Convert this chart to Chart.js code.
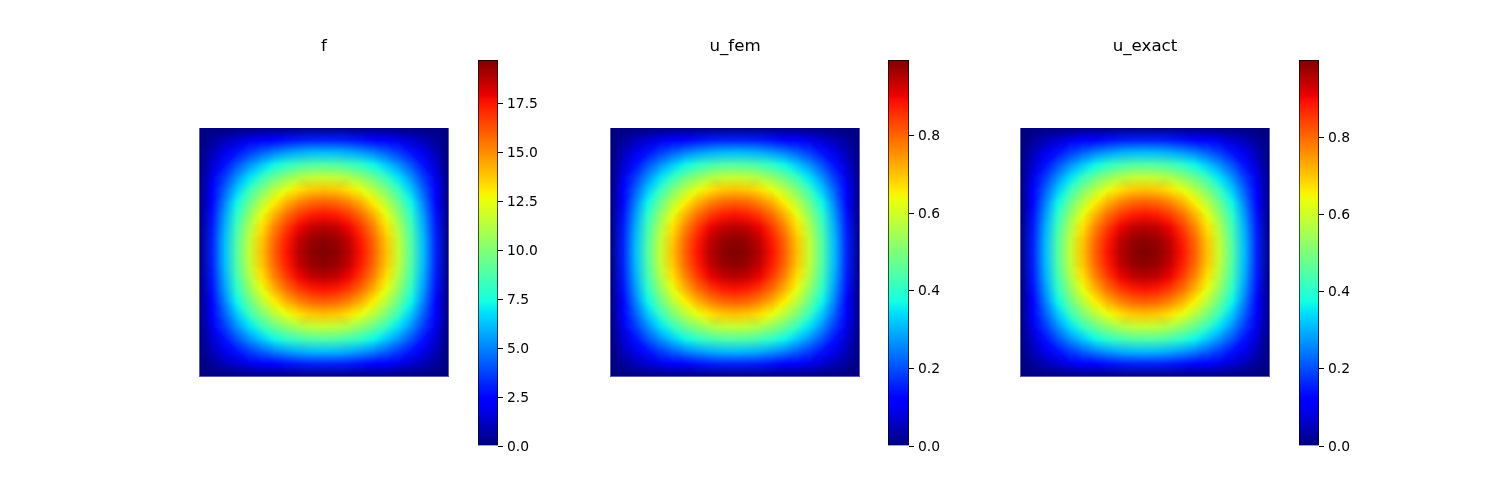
<!DOCTYPE html>
<html>
<head>
<meta charset="utf-8">
<title>Poisson solution</title>
<script src="https://cdn.jsdelivr.net/npm/chart.js@4"></script>
<style>
    html, body { margin: 0; padding: 0; background: #fff; }
    #page { position: relative; width: 1500px; height: 500px; overflow: hidden; }
    canvas { position: absolute; top: 0; }
</style>
</head>
<body>
<div id="page"></div>
<script>
    // nodal values on the 20 x 20 mesh, one row per y level
    const fValues = [
        [0,0,0,0,0,0,0,0,0,0,0,0,0,0,0,0,0,0,0,0,0],
        [0,.48,.95,1.40,1.81,2.18,2.50,2.75,2.94,3.05,3.09,3.05,2.94,2.75,2.50,2.18,1.81,1.40,.95,.48,0],
        [0,.95,1.88,2.77,3.59,4.31,4.94,5.44,5.80,6.03,6.10,6.03,5.80,5.44,4.94,4.31,3.59,2.77,1.88,.95,0],
        [0,1.40,2.77,4.07,5.27,6.34,7.25,7.99,8.52,8.85,8.96,8.85,8.52,7.99,7.25,6.34,5.27,4.07,2.77,1.40,0],
        [0,1.81,3.59,5.27,6.82,8.20,9.39,10.34,11.04,11.46,11.60,11.46,11.04,10.34,9.39,8.20,6.82,5.27,3.59,1.81,0],
        [0,2.18,4.31,6.34,8.20,9.87,11.29,12.44,13.28,13.79,13.96,13.79,13.28,12.44,11.29,9.87,8.20,6.34,4.31,2.18,0],
        [0,2.50,4.94,7.25,9.39,11.29,12.92,14.23,15.19,15.77,15.97,15.77,15.19,14.23,12.92,11.29,9.39,7.25,4.94,2.50,0],
        [0,2.75,5.44,7.99,10.34,12.44,14.23,15.67,16.73,17.37,17.59,17.37,16.73,15.67,14.23,12.44,10.34,7.99,5.44,2.75,0],
        [0,2.94,5.80,8.52,11.04,13.28,15.19,16.73,17.85,18.54,18.77,18.54,17.85,16.73,15.19,13.28,11.04,8.52,5.80,2.94,0],
        [0,3.05,6.03,8.85,11.46,13.79,15.77,17.37,18.54,19.26,19.50,19.26,18.54,17.37,15.77,13.79,11.46,8.85,6.03,3.05,0],
        [0,3.09,6.10,8.96,11.60,13.96,15.97,17.59,18.77,19.50,19.74,19.50,18.77,17.59,15.97,13.96,11.60,8.96,6.10,3.09,0],
        [0,3.05,6.03,8.85,11.46,13.79,15.77,17.37,18.54,19.26,19.50,19.26,18.54,17.37,15.77,13.79,11.46,8.85,6.03,3.05,0],
        [0,2.94,5.80,8.52,11.04,13.28,15.19,16.73,17.85,18.54,18.77,18.54,17.85,16.73,15.19,13.28,11.04,8.52,5.80,2.94,0],
        [0,2.75,5.44,7.99,10.34,12.44,14.23,15.67,16.73,17.37,17.59,17.37,16.73,15.67,14.23,12.44,10.34,7.99,5.44,2.75,0],
        [0,2.50,4.94,7.25,9.39,11.29,12.92,14.23,15.19,15.77,15.97,15.77,15.19,14.23,12.92,11.29,9.39,7.25,4.94,2.50,0],
        [0,2.18,4.31,6.34,8.20,9.87,11.29,12.44,13.28,13.79,13.96,13.79,13.28,12.44,11.29,9.87,8.20,6.34,4.31,2.18,0],
        [0,1.81,3.59,5.27,6.82,8.20,9.39,10.34,11.04,11.46,11.60,11.46,11.04,10.34,9.39,8.20,6.82,5.27,3.59,1.81,0],
        [0,1.40,2.77,4.07,5.27,6.34,7.25,7.99,8.52,8.85,8.96,8.85,8.52,7.99,7.25,6.34,5.27,4.07,2.77,1.40,0],
        [0,.95,1.88,2.77,3.59,4.31,4.94,5.44,5.80,6.03,6.10,6.03,5.80,5.44,4.94,4.31,3.59,2.77,1.88,.95,0],
        [0,.48,.95,1.40,1.81,2.18,2.50,2.75,2.94,3.05,3.09,3.05,2.94,2.75,2.50,2.18,1.81,1.40,.95,.48,0],
        [0,0,0,0,0,0,0,0,0,0,0,0,0,0,0,0,0,0,0,0,0]
    ];

    const uFemValues = [
        [0,0,0,0,0,0,0,0,0,0,0,0,0,0,0,0,0,0,0,0,0],
        [0,.024,.048,.071,.091,.110,.126,.138,.148,.153,.155,.153,.148,.138,.126,.110,.091,.071,.048,.024,0],
        [0,.048,.094,.139,.181,.217,.249,.273,.292,.303,.307,.303,.292,.273,.249,.217,.181,.139,.094,.048,0],
        [0,.071,.139,.205,.265,.319,.365,.403,.429,.445,.451,.445,.429,.403,.365,.319,.265,.205,.139,.071,0],
        [0,.091,.181,.265,.343,.413,.473,.521,.556,.578,.584,.578,.556,.521,.473,.413,.343,.265,.181,.091,0],
        [0,.110,.217,.319,.413,.497,.569,.626,.668,.694,.703,.694,.668,.626,.569,.497,.413,.319,.217,.110,0],
        [0,.126,.249,.365,.473,.569,.651,.717,.764,.794,.804,.794,.764,.717,.651,.569,.473,.365,.249,.126,0],
        [0,.138,.273,.403,.521,.626,.717,.789,.842,.875,.886,.875,.842,.789,.717,.626,.521,.403,.273,.138,0],
        [0,.148,.292,.429,.556,.668,.764,.842,.900,.933,.945,.933,.900,.842,.764,.668,.556,.429,.292,.148,0],
        [0,.153,.303,.445,.578,.694,.794,.875,.933,.970,.982,.970,.933,.875,.794,.694,.578,.445,.303,.153,0],
        [0,.155,.307,.451,.584,.703,.804,.886,.945,.982,.994,.982,.945,.886,.804,.703,.584,.451,.307,.155,0],
        [0,.153,.303,.445,.578,.694,.794,.875,.933,.970,.982,.970,.933,.875,.794,.694,.578,.445,.303,.153,0],
        [0,.148,.292,.429,.556,.668,.764,.842,.900,.933,.945,.933,.900,.842,.764,.668,.556,.429,.292,.148,0],
        [0,.138,.273,.403,.521,.626,.717,.789,.842,.875,.886,.875,.842,.789,.717,.626,.521,.403,.273,.138,0],
        [0,.126,.249,.365,.473,.569,.651,.717,.764,.794,.804,.794,.764,.717,.651,.569,.473,.365,.249,.126,0],
        [0,.110,.217,.319,.413,.497,.569,.626,.668,.694,.703,.694,.668,.626,.569,.497,.413,.319,.217,.110,0],
        [0,.091,.181,.265,.343,.413,.473,.521,.556,.578,.584,.578,.556,.521,.473,.413,.343,.265,.181,.091,0],
        [0,.071,.139,.205,.265,.319,.365,.403,.429,.445,.451,.445,.429,.403,.365,.319,.265,.205,.139,.071,0],
        [0,.048,.094,.139,.181,.217,.249,.273,.292,.303,.307,.303,.292,.273,.249,.217,.181,.139,.094,.048,0],
        [0,.024,.048,.071,.091,.110,.126,.138,.148,.153,.155,.153,.148,.138,.126,.110,.091,.071,.048,.024,0],
        [0,0,0,0,0,0,0,0,0,0,0,0,0,0,0,0,0,0,0,0,0]
    ];

    const uExactValues = [
        [0,0,0,0,0,0,0,0,0,0,0,0,0,0,0,0,0,0,0,0,0],
        [0,.024,.048,.071,.092,.111,.127,.139,.149,.154,.156,.154,.149,.139,.127,.111,.092,.071,.048,.024,0],
        [0,.048,.095,.140,.182,.218,.250,.275,.294,.305,.309,.305,.294,.275,.250,.218,.182,.140,.095,.048,0],
        [0,.071,.140,.206,.267,.321,.367,.405,.432,.448,.454,.448,.432,.405,.367,.321,.267,.206,.140,.071,0],
        [0,.092,.182,.267,.345,.416,.476,.524,.559,.581,.588,.581,.559,.524,.476,.416,.345,.267,.182,.092,0],
        [0,.111,.218,.321,.416,.500,.572,.630,.672,.698,.707,.698,.672,.630,.572,.500,.416,.321,.218,.111,0],
        [0,.127,.250,.367,.476,.572,.655,.721,.769,.799,.809,.799,.769,.721,.655,.572,.476,.367,.250,.127,0],
        [0,.139,.275,.405,.524,.630,.721,.794,.847,.880,.891,.880,.847,.794,.721,.630,.524,.405,.275,.139,0],
        [0,.149,.294,.432,.559,.672,.769,.847,.905,.939,.951,.939,.905,.847,.769,.672,.559,.432,.294,.149,0],
        [0,.154,.305,.448,.581,.698,.799,.880,.939,.976,.988,.976,.939,.880,.799,.698,.581,.448,.305,.154,0],
        [0,.156,.309,.454,.588,.707,.809,.891,.951,.988,1,.988,.951,.891,.809,.707,.588,.454,.309,.156,0],
        [0,.154,.305,.448,.581,.698,.799,.880,.939,.976,.988,.976,.939,.880,.799,.698,.581,.448,.305,.154,0],
        [0,.149,.294,.432,.559,.672,.769,.847,.905,.939,.951,.939,.905,.847,.769,.672,.559,.432,.294,.149,0],
        [0,.139,.275,.405,.524,.630,.721,.794,.847,.880,.891,.880,.847,.794,.721,.630,.524,.405,.275,.139,0],
        [0,.127,.250,.367,.476,.572,.655,.721,.769,.799,.809,.799,.769,.721,.655,.572,.476,.367,.250,.127,0],
        [0,.111,.218,.321,.416,.500,.572,.630,.672,.698,.707,.698,.672,.630,.572,.500,.416,.321,.218,.111,0],
        [0,.092,.182,.267,.345,.416,.476,.524,.559,.581,.588,.581,.559,.524,.476,.416,.345,.267,.182,.092,0],
        [0,.071,.140,.206,.267,.321,.367,.405,.432,.448,.454,.448,.432,.405,.367,.321,.267,.206,.140,.071,0],
        [0,.048,.095,.140,.182,.218,.250,.275,.294,.305,.309,.305,.294,.275,.250,.218,.182,.140,.095,.048,0],
        [0,.024,.048,.071,.092,.111,.127,.139,.149,.154,.156,.154,.149,.139,.127,.111,.092,.071,.048,.024,0],
        [0,0,0,0,0,0,0,0,0,0,0,0,0,0,0,0,0,0,0,0,0]
    ];

    const panelTitles = ['f', 'u_fem', 'u_exact'];
    const fTicks = [0, 2.5, 5, 7.5, 10, 12.5, 15, 17.5];
    const uTicks = [0, 0.2, 0.4, 0.6, 0.8];

    // first pixel column of each mesh plot and of each colorbar on the page
    const meshLefts = [199, 610, 1020];
    const barLefts = [478, 888, 1299];
    const barWidths = [20, 21, 20];

    const JET = {
        r: [[0, 0], [.35, 0], [.66, 1], [.89, 1], [1, .5]],
        g: [[0, 0], [.125, 0], [.375, 1], [.64, 1], [.91, 0], [1, 0]],
        b: [[0, .5], [.11, 1], [.34, 1], [.65, 0], [1, 0]]
    };

    function channel(stops, t) {
        for (let i = 1; i < stops.length; i++) {
            if (t <= stops[i][0]) {
                const k = (t - stops[i - 1][0]) / (stops[i][0] - stops[i - 1][0]);
                return stops[i - 1][1] + k * (stops[i][1] - stops[i - 1][1]);
            }
        }
        return stops[stops.length - 1][1];
    }

    function jet(t) {
        return [channel(JET.r, t) * 255, channel(JET.g, t) * 255, channel(JET.b, t) * 255];
    }

    // fill one triangle of the mesh, blending the vertex colours
    function fillTriangle(img, ox, oy, a, b, c) {
        const det = (b.y - c.y) * (a.x - c.x) + (c.x - b.x) * (a.y - c.y);
        const x0 = Math.floor(Math.min(a.x, b.x, c.x) - ox - 0.5);
        const x1 = Math.ceil(Math.max(a.x, b.x, c.x) - ox);
        const y0 = Math.floor(Math.min(a.y, b.y, c.y) - oy - 0.5);
        const y1 = Math.ceil(Math.max(a.y, b.y, c.y) - oy);
        for (let py = Math.max(y0, 0); py < Math.min(y1, img.height); py++) {
            for (let px = Math.max(x0, 0); px < Math.min(x1, img.width); px++) {
                const x = px + 0.5 + ox, y = py + 0.5 + oy;
                const l1 = ((b.y - c.y) * (x - c.x) + (c.x - b.x) * (y - c.y)) / det;
                const l2 = ((c.y - a.y) * (x - c.x) + (a.x - c.x) * (y - c.y)) / det;
                const l3 = 1 - l1 - l2;
                if (l1 < -1e-6 || l2 < -1e-6 || l3 < -1e-6) continue;
                const n = (py * img.width + px) * 4;
                for (let k = 0; k < 3; k++) {
                    img.data[n + k] = l1 * a.rgb[k] + l2 * b.rgb[k] + l3 * c.rgb[k];
                }
                // pixels straddling the outer boundary only get partial coverage
                const edge = px === 0 || py === 0 || px === img.width - 1 || py === img.height - 1;
                img.data[n + 3] = edge ? 165 : 255;
            }
        }
    }

    // diagonals run along the level lines, and zigzag near the top and bottom middle
    function risingDiagonal(i, j, n) {
        const mid = n / 2;
        if (Math.abs(i + 0.5 - mid) < 3 && Math.abs(j + 0.5 - mid) > 4) {
            return (j < mid) === (i % 2 === 0);
        }
        return (i < mid) === (j >= mid);
    }

    const meshPlugin = {
        id: 'meshPlugin',
        beforeDatasetsDraw(chart) {
            const points = chart.data.datasets[0].data;
            const n = chart.data.datasets[0].meshSize;
            const top = Math.max(...points.map(p => p.v));
            const area = chart.chartArea;
            const ox = Math.floor(area.left), oy = Math.floor(area.top);
            const w = Math.ceil(area.right) - ox, h = Math.ceil(area.bottom) - oy;
            const img = chart.ctx.createImageData(w, h);
            const node = (i, j) => {
                const p = points[j * (n + 1) + i];
                return {
                    x: chart.scales.x.getPixelForValue(p.x),
                    y: chart.scales.y.getPixelForValue(p.y),
                    rgb: jet(p.v / top)
                };
            };
            for (let j = 0; j < n; j++) {
                for (let i = 0; i < n; i++) {
                    if (risingDiagonal(i, j, n)) {
                        fillTriangle(img, ox, oy, node(i, j), node(i + 1, j), node(i + 1, j + 1));
                        fillTriangle(img, ox, oy, node(i, j), node(i + 1, j + 1), node(i, j + 1));
                    } else {
                        fillTriangle(img, ox, oy, node(i, j), node(i + 1, j), node(i, j + 1));
                        fillTriangle(img, ox, oy, node(i + 1, j), node(i + 1, j + 1), node(i, j + 1));
                    }
                }
            }
            chart.ctx.putImageData(img, ox, oy);
        }
    };

    function addCanvas(left, width) {
        const canvas = document.createElement('canvas');
        canvas.width = width;
        canvas.height = 500;
        canvas.style.left = left + 'px';
        document.getElementById('page').appendChild(canvas);
        return canvas;
    }

    function drawMesh(left, title, rows) {
        const n = rows.length - 1;
        const points = [];
        rows.forEach((row, j) => row.forEach((v, i) => points.push({ x: i / n, y: j / n, v: v })));
        const canvas = addCanvas(left - 30, 310);
        new Chart(canvas, {
            type: 'scatter',
            data: { datasets: [{ data: points, meshSize: n, pointRadius: 0 }] },
            plugins: [meshPlugin],
            options: {
                responsive: false,
                animation: false,
                layout: { padding: { left: 30.5, right: 30.5, top: 0, bottom: 123.5 } },
                scales: {
                    x: { type: 'linear', min: 0, max: 1, display: false },
                    y: { type: 'linear', min: 0, max: 1, display: false }
                },
                plugins: {
                    legend: { display: false },
                    tooltip: { enabled: false },
                    title: {
                        display: true,
                        text: title,
                        color: '#000',
                        font: { family: 'DejaVu Sans', size: 16.67, weight: 'normal', lineHeight: 1.2 },
                        padding: { top: 37, bottom: 70.5 }
                    }
                }
            }
        });
    }

    function drawColorbar(left, width, rows, ticks) {
        const top = Math.max(...rows.flat());
        const canvas = addCanvas(left - 10, width + 80);
        new Chart(canvas, {
            type: 'bar',
            data: {
                labels: [''],
                datasets: [{
                    data: [top],
                    barPercentage: 1,
                    categoryPercentage: 1,
                    borderColor: '#000',
                    borderWidth: 1,
                    backgroundColor(ctx) {
                        const area = ctx.chart.chartArea;
                        if (!area) return '#000';
                        const gradient = ctx.chart.ctx.createLinearGradient(0, area.bottom, 0, area.top);
                        for (let i = 0; i <= 64; i++) {
                            const c = jet(i / 64);
                            gradient.addColorStop(i / 64, `rgb(${c[0]},${c[1]},${c[2]})`);
                        }
                        return gradient;
                    }
                }]
            },
            options: {
                responsive: false,
                animation: false,
                layout: { padding: { left: 10, right: 0, top: 60, bottom: 54 } },
                scales: {
                    x: { display: false },
                    y: {
                        position: 'right',
                        min: 0,
                        max: top,
                        afterFit(scale) { scale.width = 70; },
                        afterBuildTicks(scale) { scale.ticks = ticks.map(v => ({ value: v })); },
                        border: { display: false },
                        grid: { drawOnChartArea: false, color: '#000', tickLength: 5, tickWidth: 1 },
                        ticks: {
                            color: '#000',
                            autoSkip: false,
                            padding: 4,
                            // blank first line with a tight line height drops the label 1px onto its tick
                            font: { family: 'DejaVu Sans', size: 13.89, lineHeight: 0.144 },
                            callback: v => ['', v.toFixed(1)]
                        }
                    }
                },
                plugins: { legend: { display: false }, tooltip: { enabled: false } }
            }
        });
    }

    const panelRows = [fValues, uFemValues, uExactValues];
    const panelTicks = [fTicks, uTicks, uTicks];

    panelTitles.forEach((title, i) => {
        drawMesh(meshLefts[i], title, panelRows[i]);
        drawColorbar(barLefts[i], barWidths[i], panelRows[i], panelTicks[i]);
    });
</script>
</body>
</html>
